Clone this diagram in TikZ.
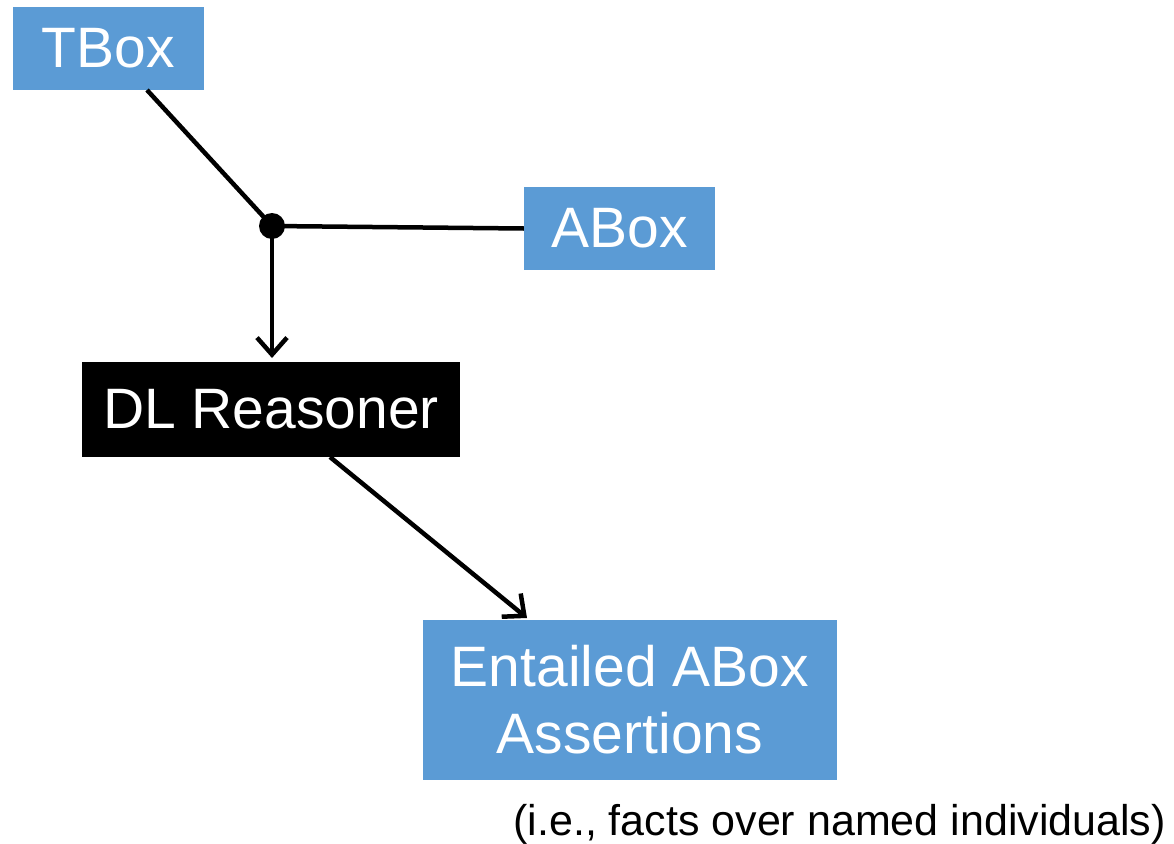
\documentclass[tikz,border=0pt]{standalone}
\usepackage{fontspec}
\setmainfont{Liberation Sans}
\usetikzlibrary{arrows.meta}
\definecolor{boxblue}{RGB}{91,155,213}
\tikzset{
  bluebox/.style={fill=boxblue, text=white, inner sep=0pt, font=\fontsize{57}{67}\selectfont},
  darkbox/.style={fill=black, text=white, inner sep=0pt, font=\fontsize{57}{67}\selectfont},
  wire/.style={line width=4.5pt, black},
  flow/.style={wire, -{Straight Barb[length=17pt, width=30pt, line width=4.5pt]}},
}
\begin{document}
\begin{tikzpicture}[x=1pt, y=1pt]
  \useasboundingbox (0,0) rectangle (1174,-843);
  \node[bluebox, minimum width=191pt, minimum height=83pt] (tbox) at (108.5,-48.5) {TBox};
  \node[bluebox, minimum width=191pt, minimum height=83pt] (abox) at (619.5,-228.5) {ABox};
  \node[darkbox, minimum width=378pt, minimum height=95pt] (dl) at (271,-409.5) {DL Reasoner};
  \node[bluebox, minimum width=414pt, minimum height=160pt, align=center] (ent) at (630,-700) {Entailed ABox\\Assertions};
  \node[anchor=base east, inner sep=0pt, font=\fontsize{43}{49}\selectfont] (note) at (1166,-835) {(i.e., facts over named individuals)};
  \fill (272,-226) circle (13pt);
  \coordinate (join) at (272,-226);
  \coordinate (tfoot) at (147,-90);
  \coordinate (dltop) at (272,-358);
  \coordinate (dlfoot) at (330,-457);
  \coordinate (enttop) at (527,-618);
  \draw[wire] (tfoot) -- (join);
  \draw[wire] (join) -- (abox.west);
  \draw[flow] (join) -- (dltop);
  \draw[flow] (dlfoot) -- (enttop);
\end{tikzpicture}
\end{document}
